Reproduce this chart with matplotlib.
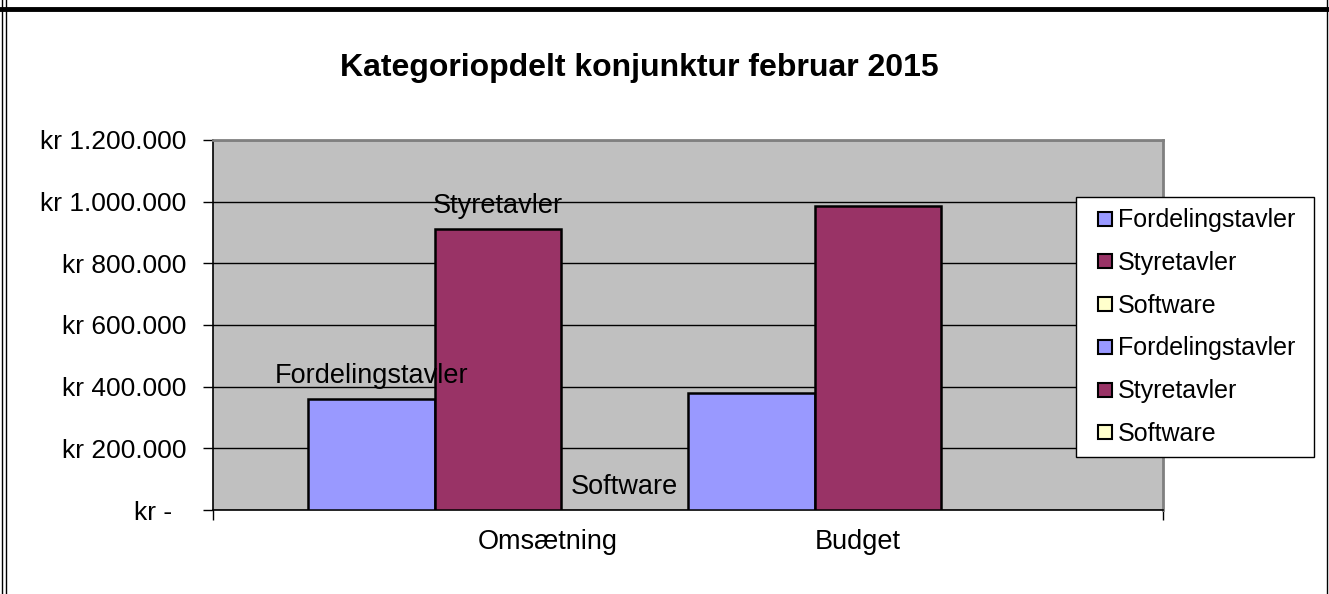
import matplotlib.pyplot as plt
from matplotlib.lines import Line2D

plt.rcParams['font.family'] = ['Liberation Sans', 'DejaVu Sans']

# data
series = ['Fordelingstavler', 'Styretavler', 'Software',
          'Fordelingstavler', 'Styretavler', 'Software']
values = [360000, 910000, 0, 380000, 985000, 0]
colors = ['#9999FF', '#993366', '#FFFFCC', '#9999FF', '#993366', '#FFFFCC']
labelled = [True, True, True, False, False, False]
categories = ['Omsætning', 'Budget']
cat_pos = [1.89, 4.34]
yticks = [0, 200000, 400000, 600000, 800000, 1000000, 1200000]


def kr(v):
    if v == 0:
        return 'kr -  '
    return 'kr ' + f'{v:,.0f}'.replace(',', '.')


W, H = 1329, 594
fig = plt.figure(figsize=(W / 100, H / 100), dpi=100)
fig.patch.set_facecolor('white')

ax = fig.add_axes([213 / W, (H - 510) / H, 950 / W, 370 / H])
ax.set_facecolor('#C0C0C0')

x = range(len(values))
ax.bar([i + 0.5 for i in x], values, width=1.0, color=colors,
       edgecolor='black', linewidth=[1.8 if v else 0 for v in values], zorder=3)

for i in x:
    if labelled[i]:
        ax.annotate(series[i], (i + 0.5, values[i]), xytext=(0, 16),
                    textcoords='offset pixels', ha='center', va='baseline',
                    fontsize=19.5, zorder=4)

ax.set_xlim(-0.75, 6.75)
ax.set_ylim(0, 1200000)
ax.set_yticks(yticks)
ax.set_yticklabels([kr(v) for v in yticks], fontsize=19)
ax.yaxis.grid(True, color='black', linewidth=1)
ax.set_axisbelow(True)
ax.tick_params(axis='y', length=7, width=1, pad=12, direction='out')

ax.set_xticks(cat_pos)
ax.set_xticklabels(categories, fontsize=19.5)
ax.tick_params(axis='x', which='major', length=0, pad=14)
ax.set_xticks([-0.75, 6.75], minor=True)
ax.tick_params(axis='x', which='minor', length=7, width=1)

for side in ['top', 'right']:
    ax.spines[side].set_color('#808080')
    ax.spines[side].set_linewidth(2)
ax.spines['left'].set_linewidth(1.2)
ax.spines['bottom'].set_linewidth(1.2)

fig.text(639 / W, 1 - 68 / H, 'Kategoriopdelt konjunktur februar 2015',
         ha='center', va='center', fontsize=23, fontweight='bold')

handles = [Line2D([], [], linestyle='none', marker='s', markersize=9.4,
                  markerfacecolor=c, markeredgecolor='black', markeredgewidth=1.5)
           for c in colors]
leg = fig.legend(handles, series, loc='upper left', mode='expand',
                 bbox_to_anchor=(1076 / W, (H - 453) / H, 238 / W, 256 / H),
                 fontsize=18, handlelength=1.44, handletextpad=-0.2,
                 labelspacing=0.75, borderpad=0.45, borderaxespad=0,
                 fancybox=False, framealpha=1, edgecolor='black')
leg.get_frame().set_linewidth(1)

# sheet frame lines
fig.add_artist(Line2D([0, 1], [1 - 9 / H, 1 - 9 / H], color='black', linewidth=3.5))
fig.add_artist(Line2D([2 / W, 2 / W], [0, 1], color='black', linewidth=1))
fig.add_artist(Line2D([6 / W, 6 / W], [0, 1], color='black', linewidth=1))
fig.add_artist(Line2D([1327 / W, 1327 / W], [0, 1], color='black', linewidth=1))

fig.savefig('out.png', dpi=100)
